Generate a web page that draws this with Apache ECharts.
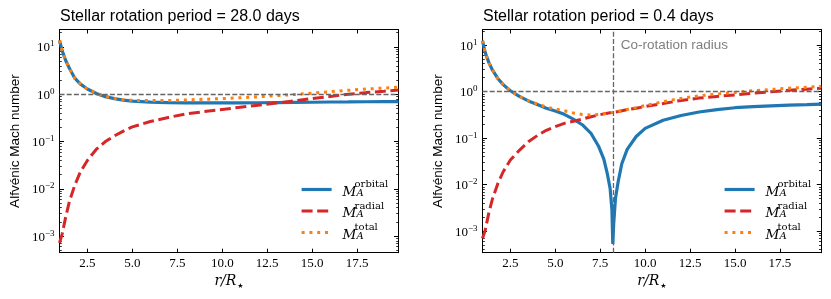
<!DOCTYPE html>
<html><head><meta charset="utf-8">
<script src="https://cdn.jsdelivr.net/npm/echarts@6/dist/echarts.min.js"></script>
<style>html,body{margin:0;padding:0;background:#fff}#c{width:831px;height:299px}</style>
</head><body><div id="c"></div>
<script>
// ---------- data ----------
const titles = ['Stellar rotation period = 28.0 days', 'Stellar rotation period = 0.4 days'];
const seriesNames = ['orbital', 'radial', 'total'];

// Panel 1: P = 28.0 days
const rSlow = [0.95, 1.1, 1.3, 1.5, 1.8, 2.1, 2.5, 3.0, 3.5, 4.0, 4.5, 5.0, 6.0, 7.0, 8.0, 9.0, 10, 11, 12, 13, 14, 15, 16, 17, 18, 19, 19.8];
const orbitalSlow = [13.8, 8.3, 5.1, 3.55, 2.19, 1.66, 1.29, 1.04, 0.89, 0.81, 0.75, 0.715, 0.685, 0.664, 0.656, 0.655, 0.655, 0.658, 0.662, 0.667, 0.673, 0.679, 0.686, 0.69, 0.695, 0.698, 0.70];
const radialSlow = [0.00072, 0.00112, 0.0026, 0.0054, 0.012, 0.0224, 0.04, 0.069, 0.1, 0.132, 0.166, 0.204, 0.266, 0.324, 0.385, 0.431, 0.479, 0.531, 0.585, 0.653, 0.724, 0.813, 0.902, 1.0, 1.084, 1.16, 1.23];
const totalSlow = [13.8, 8.3, 5.1, 3.55, 2.19, 1.66, 1.29, 1.042, 0.896, 0.821, 0.768, 0.744, 0.735, 0.739, 0.761, 0.784, 0.811, 0.846, 0.883, 0.933, 0.988, 1.059, 1.133, 1.215, 1.288, 1.354, 1.415];

// Panel 2: P = 0.4 days
const rFast = [0.95, 1.1, 1.3, 1.5, 1.8, 2.1, 2.5, 3.0, 3.5, 4.0, 4.5, 5.0, 5.5, 6.0, 6.5, 7.0, 7.4, 7.7, 7.9, 8.05, 8.15, 8.2, 8.25, 8.35, 8.5, 8.7, 9.0, 9.5, 10, 11, 12, 13, 14, 15, 16, 17, 18, 19, 19.8];
const orbitalFast = [12.6, 6.97, 4.27, 2.94, 1.93, 1.42, 1.05, 0.792, 0.635, 0.533, 0.442, 0.385, 0.327, 0.258, 0.195, 0.125, 0.0682, 0.0355, 0.0168, 0.0083, 0.0029, 0.00053, 0.00145, 0.0052, 0.0117, 0.0282, 0.0575, 0.109, 0.163, 0.244, 0.308, 0.366, 0.412, 0.453, 0.48, 0.497, 0.513, 0.527, 0.54];
const radialFast = [0.0007, 0.00105, 0.00245, 0.0049, 0.0105, 0.019, 0.034, 0.055, 0.084, 0.114, 0.148, 0.178, 0.209, 0.232, 0.258, 0.29, 0.315, 0.334, 0.346, 0.352, 0.356, 0.358, 0.361, 0.366, 0.375, 0.389, 0.412, 0.442, 0.48, 0.558, 0.65, 0.731, 0.794, 0.851, 0.933, 1.0, 1.07, 1.135, 1.19];
const totalFast = [12.6, 6.97, 4.27, 2.94, 1.93, 1.42, 1.05, 0.794, 0.64, 0.545, 0.466, 0.424, 0.39, 0.35, 0.325, 0.316, 0.322, 0.336, 0.346, 0.352, 0.356, 0.358, 0.361, 0.366, 0.375, 0.39, 0.416, 0.455, 0.506, 0.61, 0.72, 0.817, 0.895, 0.966, 1.05, 1.12, 1.19, 1.25, 1.31];

const corotationRadius = 8.2;
const corotationLabelY = 10;
const alfvenLevel = 1;

// axes
const xRange = [0.95, 19.8];
const xTickValues = [2.5, 5.0, 7.5, 10.0, 12.5, 15.0, 17.5];
const yRanges = [[4.48e-4, 23.4], [3.45e-4, 21.8]];
const yMajorTicks = [1e-3, 1e-2, 1e-1, 1, 10];
const yMinorTicks = [];
for (let e = -4; e <= 1; e++) for (let k = 2; k <= 9; k++) yMinorTicks.push(k * Math.pow(10, e));

// ---------- chart ----------
const chart = echarts.init(document.getElementById('c'), null, {renderer: 'canvas'});
const sans = 'Liberation Sans';
const serif = 'Liberation Serif';
const mathFont = 'DejaVu Serif';
const colors = {orbital: '#1f77b4', radial: '#d62728', total: '#ff7f0e'};

const grids = [
  {left: 59.5, right: 432.5, top: 29.5, bottom: 46.3, outerBoundsMode: 'none'},
  {left: 482.5, right: 9.7, top: 29.5, bottom: 46.3, outerBoundsMode: 'none'}
];

const axisLineStyle = {color: '#000', width: 1};
const xAxes = [], yAxes = [];
[0, 1].forEach(g => {
  xAxes.push({
    gridIndex: g, type: 'value', min: xRange[0], max: xRange[1], position: 'bottom',
    axisLine: {show: true, lineStyle: axisLineStyle},
    axisTick: {show: true, inside: true, length: 4, customValues: xTickValues, lineStyle: axisLineStyle},
    axisLabel: {customValues: xTickValues, formatter: v => v.toFixed(1), fontFamily: serif, fontSize: 13, color: '#000', margin: 4},
    splitLine: {show: false},
    name: '{i|r/R}{s|\u2605}', nameLocation: 'middle', nameGap: 9,
    nameTextStyle: {rich: {
      i: {fontFamily: mathFont, fontStyle: 'italic', fontSize: 14, color: '#000', lineHeight: 16},
      s: {fontFamily: 'DejaVu Sans', fontSize: 7, color: '#000', lineHeight: 9, verticalAlign: 'bottom', padding: [0, 0, 0, 1]}
    }}
  });
  xAxes.push({
    gridIndex: g, type: 'value', min: xRange[0], max: xRange[1], position: 'top',
    axisLine: {show: true, lineStyle: axisLineStyle},
    axisTick: {show: true, inside: true, length: 4, customValues: xTickValues, lineStyle: axisLineStyle},
    axisLabel: {show: false}, splitLine: {show: false}
  });
  const [ymin, ymax] = yRanges[g];
  const base = {gridIndex: g, type: 'log', logBase: 10, min: ymin, max: ymax, splitLine: {show: false}};
  yAxes.push(Object.assign({}, base, {
    position: 'left',
    axisLine: {show: true, lineStyle: axisLineStyle},
    axisTick: {show: true, inside: true, length: 4.5, customValues: yMajorTicks, lineStyle: axisLineStyle},
    axisLabel: {
      customValues: yMajorTicks, margin: 5,
      formatter: v => {
        const e = Math.round(Math.log10(v));
        return '{b|10}{s|' + (e < 0 ? '\u2212' + (-e) : e) + '}';
      },
      rich: {
        b: {fontFamily: serif, fontSize: 13, lineHeight: 15, verticalAlign: 'bottom', color: '#000'},
        s: {fontFamily: serif, fontSize: 9, lineHeight: 9, verticalAlign: 'top', color: '#000'}
      }
    },
    name: 'Alfvénic Mach number', nameLocation: 'middle', nameGap: 37,
    nameTextStyle: {fontFamily: sans, fontSize: 13.5, color: '#000'}
  }));
  yAxes.push(Object.assign({}, base, {
    position: 'left', axisLine: {show: false},
    axisTick: {show: true, inside: true, length: 2.3, customValues: yMinorTicks, lineStyle: {color: '#000', width: 0.8}},
    axisLabel: {show: false}
  }));
  yAxes.push(Object.assign({}, base, {
    position: 'right', axisLine: {show: true, lineStyle: axisLineStyle},
    axisTick: {show: true, inside: true, length: 4.5, customValues: yMajorTicks, lineStyle: axisLineStyle},
    axisLabel: {show: false}
  }));
  yAxes.push(Object.assign({}, base, {
    position: 'right', axisLine: {show: false},
    axisTick: {show: true, inside: true, length: 2.3, customValues: yMinorTicks, lineStyle: {color: '#000', width: 0.8}},
    axisLabel: {show: false}
  }));
});

const refLine = {color: '#666', width: 1.3, type: [5, 2.2]};
function pairs(r, v) { return r.map((x, i) => [x, v[i]]); }
function panel(g, r, orb, rad, tot) {
  const common = {type: 'line', xAxisIndex: 2 * g, yAxisIndex: 4 * g, symbol: 'none', showSymbol: false, silent: true, animation: false, clip: true};
  const markLineData = [{yAxis: alfvenLevel}];
  if (g === 1) markLineData.push({xAxis: corotationRadius});
  const s = [
    Object.assign({}, common, {name: 'orbital', data: pairs(r, orb), z: 2,
      lineStyle: {color: colors.orbital, width: 3.2}, itemStyle: {color: colors.orbital}}),
    Object.assign({}, common, {name: 'radial', data: pairs(r, rad), z: 3,
      lineStyle: {color: colors.radial, width: 3, type: [11, 4.6], cap: 'butt'}, itemStyle: {color: colors.radial}}),
    Object.assign({}, common, {name: 'total', data: pairs(r, tot), z: 4,
      lineStyle: {color: colors.total, width: 3, type: [3, 4.8], cap: 'butt'}, itemStyle: {color: colors.total},
      markLine: {silent: true, symbol: ['none', 'none'], label: {show: false}, lineStyle: refLine, data: markLineData, animation: false, z: 6}
    })
  ];
  if (g === 1) {
    s[2].markPoint = {
      silent: true, symbol: 'circle', symbolSize: 0, animation: false,
      data: [{coord: [corotationRadius, corotationLabelY]}],
      label: {show: true, position: 'right', distance: 8, formatter: 'Co-rotation radius',
        fontFamily: sans, fontSize: 13.5, color: '#7f7f7f'}
    };
  }
  return s;
}

const legendRich = {
  sp: {width: 12, lineHeight: 1, fontSize: 1},
  sup: {fontFamily: mathFont, fontSize: 10, lineHeight: 1, color: '#000'},
  M: {fontFamily: mathFont, fontStyle: 'italic', fontSize: 13.5, lineHeight: 8, verticalAlign: 'top', color: '#000'},
  A: {fontFamily: mathFont, fontStyle: 'italic', fontSize: 10, lineHeight: 10, verticalAlign: 'top', padding: [3.4, 0, 0, 0], color: '#000'}
};
function legend(left) {
  return {
    data: seriesNames, orient: 'vertical', left: left, top: 179.5, padding: 0,
    icon: 'inherit',
    itemStyle: {opacity: 0, borderWidth: 0},
    lineStyle: {width: 3.2},
    itemWidth: 30, itemHeight: 14, itemGap: 2, selectedMode: false,
    formatter: name => '{sp| }{sup|' + name + '}\n{M|M}{A|A}',
    textStyle: {rich: legendRich, padding: [0, 0, 0, 6]}
  };
}

chart.setOption({
  animation: false,
  backgroundColor: '#fff',
  title: titles.map((t, i) => ({text: t, left: i === 0 ? 60 : 483, top: 9, padding: 0,
    textStyle: {fontFamily: sans, fontSize: 16, fontWeight: 'normal', color: '#000'}})),
  grid: grids,
  xAxis: xAxes,
  yAxis: yAxes,
  legend: [legend(300), legend(723)],
  series: [].concat(panel(0, rSlow, orbitalSlow, radialSlow, totalSlow), panel(1, rFast, orbitalFast, radialFast, totalFast))
});
</script></body></html>
